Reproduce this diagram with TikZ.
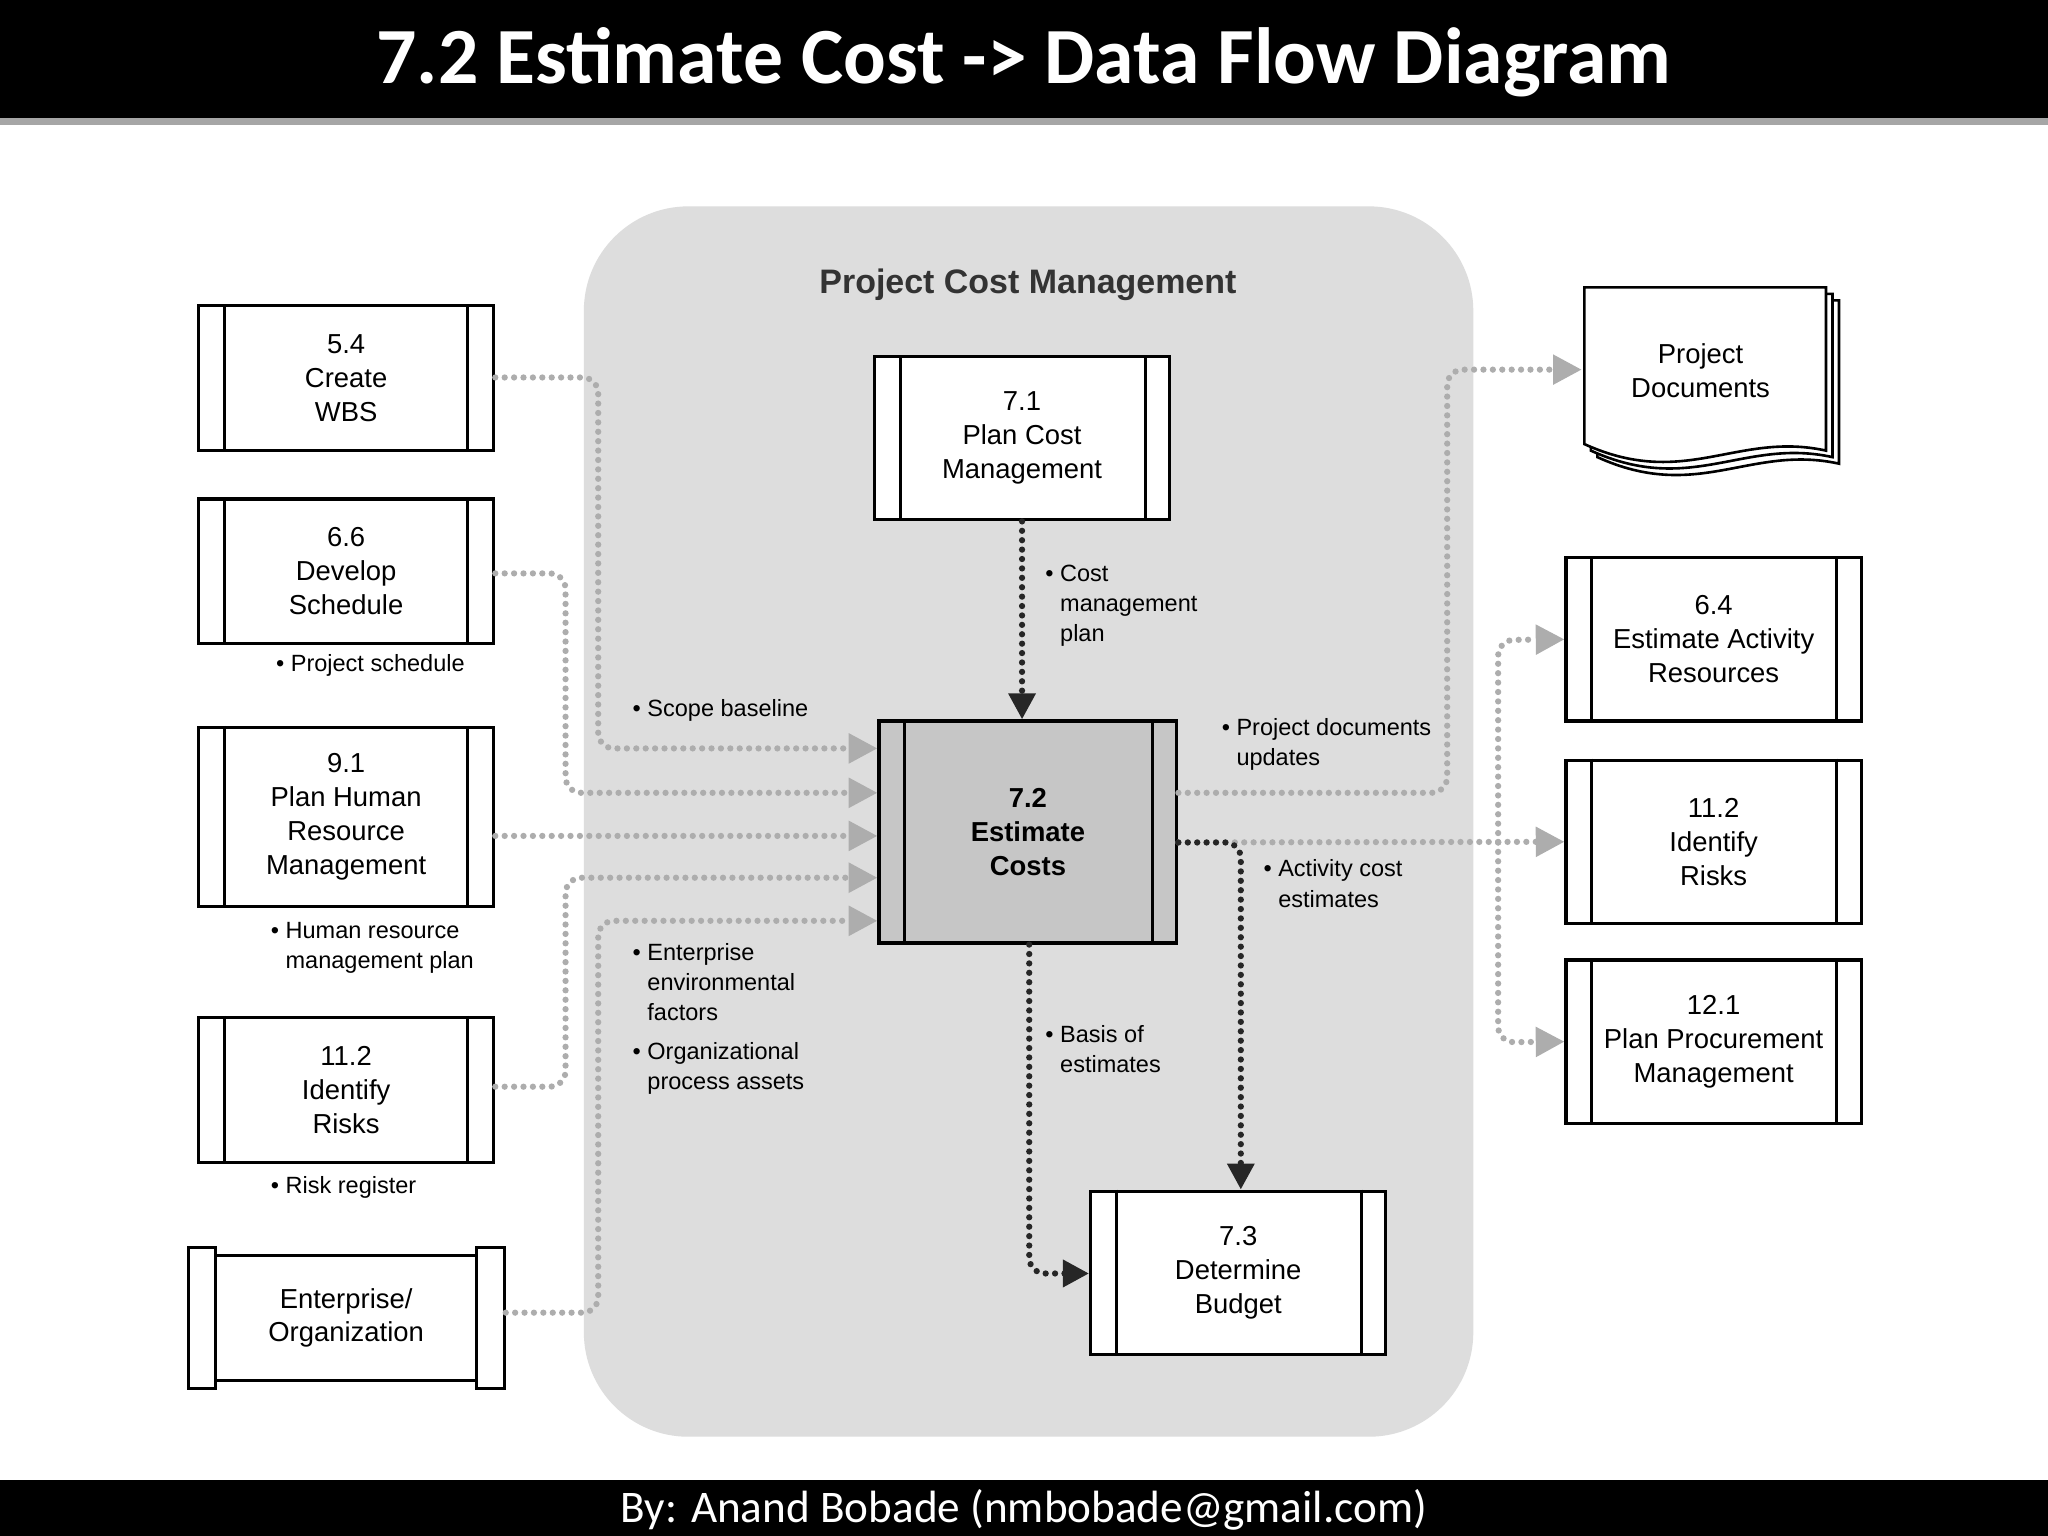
\documentclass[tikz,border=0pt]{standalone}
\usepackage{fontspec}
\setmainfont{Liberation Sans}
\newfontfamily\titlefont{Carlito}
\usetikzlibrary{arrows.meta}
\definecolor{dotgray}{gray}{0.68}
\tikzset{
 proc/.style={draw,line width=1.2pt,fill=white,minimum width=113pt,align=center,font=\fontsize{10.5}{13}\selectfont,inner sep=0pt},
 lbl/.style={align=left,anchor=north west,font=\fontsize{9}{11.5}\selectfont,inner sep=0pt},
 gflow/.style={dotgray,line width=2.4pt,dash pattern=on 0pt off 3.6pt,line cap=round,rounded corners=6pt},
 bflow/.style={black!85,line width=2.4pt,dash pattern=on 0pt off 3.6pt,line cap=round,rounded corners=6pt},
 garr/.style={-{Triangle[length=11pt,width=11pt,fill=dotgray,color=dotgray]}},
 barr/.style={-{Triangle[length=10pt,width=10pt,fill=black!85,color=black!85]}}
}
\newcommand{\bars}[3]{\draw[line width=1.2pt] ([xshift=#2]#1.north west)--([xshift=#2]#1.south west);
 \draw[line width=1.2pt] ([xshift=-#3]#1.north east)--([xshift=-#3]#1.south east);}
\begin{document}
\begin{tikzpicture}[x=0.5pt,y=-0.5pt]
\useasboundingbox (0,0) rectangle (1568,1176);
\fill[white] (0,0) rectangle (1568,1176);
% title
\fill[gray!70] (0,88) rectangle (1568,96);
\fill[black] (0,0) rectangle (1568,90);
\node[white,font=\titlefont\bfseries\fontsize{30.5}{34}\selectfont] (title) at (784,48) {7.2 Estimate Cost -> Data Flow Diagram};
\fill[black] (0,1133) rectangle (1568,1176);
\node[white,font=\titlefont\fontsize{17.3}{19}\selectfont] (foot) at (784,1156) {By: Anand Bobade (nmbobade@gmail.com)};
% region
\fill[gray!27,rounded corners=40pt] (447,158) rectangle (1128,1100);
\node[font=\bfseries\fontsize{13}{15}\selectfont,text=black!80] (pcm) at (787,218) {Project Cost Management};
% left boxes
\node[proc,minimum height=55.5pt] (b54) at (265,289.5) {5.4\\Create\\WBS}; \bars{b54}{10.5pt}{10.5pt}
\node[proc,minimum height=55.5pt] (b66) at (265,437.5) {6.6\\Develop\\Schedule}; \bars{b66}{10.5pt}{10.5pt}
\node[proc,minimum height=68.5pt] (b91) at (265,625.5) {9.1\\Plan Human\\Resource\\Management}; \bars{b91}{10.5pt}{10.5pt}
\node[proc,minimum height=55.5pt] (b112l) at (265,834.5) {11.2\\Identify\\Risks}; \bars{b112l}{10.5pt}{10.5pt}
% enterprise
\draw[line width=1.2pt,fill=white] (144,955) rectangle (165,1063);
\draw[line width=1.2pt,fill=white] (365,955) rectangle (386,1063);
\node[proc,minimum width=100pt,minimum height=48pt] (ent) at (265,1009) {Enterprise/\\Organization};
% center boxes
\node[proc,minimum height=62.5pt] (b71) at (782.5,335.5) {7.1\\Plan Cost\\Management}; \bars{b71}{10.5pt}{10pt}
\node[proc,minimum width=114pt,minimum height=85pt,fill=gray!45,font=\bfseries\fontsize{10.5}{13}\selectfont] (b72) at (787,637) {7.2\\Estimate\\Costs}; \bars{b72}{10.5pt}{10pt}
\node[proc,minimum height=62.5pt] (b73) at (948,974.5) {7.3\\Determine\\Budget}; \bars{b73}{10.5pt}{10pt}
% right boxes
\node[proc,minimum height=62.5pt] (b64) at (1312,489.5) {6.4\\Estimate Activity\\Resources}; \bars{b64}{10.5pt}{10pt}
\node[proc,minimum height=62.5pt] (b112r) at (1312,644.5) {11.2\\Identify\\Risks}; \bars{b112r}{10.5pt}{10pt}
\node[proc,minimum height=62.5pt] (b121) at (1312,797.5) {12.1\\Plan Procurement\\Management}; \bars{b121}{10.5pt}{10pt}
% documents
\foreach \d in {10,5,0}{
\draw[line width=1pt,fill=white] (1213+\d,220+\d) -- (1398+\d,220+\d) -- (1398+\d,345+\d) .. controls (1330+\d,330+\d) and (1290+\d,375+\d) .. (1213+\d,340+\d) -- cycle;}
\node[font=\fontsize{10.5}{13}\selectfont,align=center] (docs) at (1302,284) {Project\\Documents};
\coordinate (docin) at (1211,283);
% left flows
\draw[gflow,garr] (b54.east|-0,289) -- (458,289) -- (458,573) -- (b72.west|-0,573);
\draw[gflow,garr] (b66.east|-0,439) -- (433,439) -- (433,607) -- (b72.west|-0,607);
\draw[gflow,garr] (b91.east|-0,640) -- (b72.west|-0,640);
\draw[gflow,garr] (b112l.east|-0,832) -- (433,832) -- (433,672) -- (b72.west|-0,672);
\draw[gflow,garr] (ent.east|-0,1005) ++(21,0) -- (458,1005) -- (458,705) -- (b72.west|-0,705);
% right flows
\draw[gflow,garr] (b72.east|-0,607) -- (1108,607) -- (1108,283) -- (docin);
\draw[gflow,garr] (b72.east|-0,645) -- (b112r.west);
\draw[gflow,garr] (1147,645) -- (1147,490) -- (b64.west);
\draw[gflow,garr] (1147,645) -- (1147,798) -- (b121.west);
% black flows
\draw[bflow,barr] (b71.south) -- (b72.north-|b71.south);
\draw[bflow,barr] (b72.east|-0,645) -- (950,645) -- (b73.north-|950,0);
\draw[bflow,barr] (b72.south-|788,0) -- (788,975) -- (b73.west|-0,975);
% labels
\node[lbl] (l1) at (800,432) {\textbullet\ Cost\\\phantom{\textbullet\ }management\\\phantom{\textbullet\ }plan};
\node[lbl] (l2) at (211,501) {\textbullet\ Project schedule};
\node[lbl] (l3) at (484,535) {\textbullet\ Scope baseline};
\node[lbl] (l4) at (207,706) {\textbullet\ Human resource\\\phantom{\textbullet\ }management plan};
\node[lbl] (l5) at (207,900) {\textbullet\ Risk register};
\node[lbl] (l6) at (484,722) {\textbullet\ Enterprise\\\phantom{\textbullet\ }environmental\\\phantom{\textbullet\ }factors};
\node[lbl] (l7) at (484,798) {\textbullet\ Organizational\\\phantom{\textbullet\ }process assets};
\node[lbl] (l8) at (800,785) {\textbullet\ Basis of\\\phantom{\textbullet\ }estimates};
\node[lbl] (l9) at (935,550) {\textbullet\ Project documents\\\phantom{\textbullet\ }updates};
\node[lbl] (l10) at (967,658) {\textbullet\ Activity cost\\\phantom{\textbullet\ }estimates};
\end{tikzpicture}
\end{document}
